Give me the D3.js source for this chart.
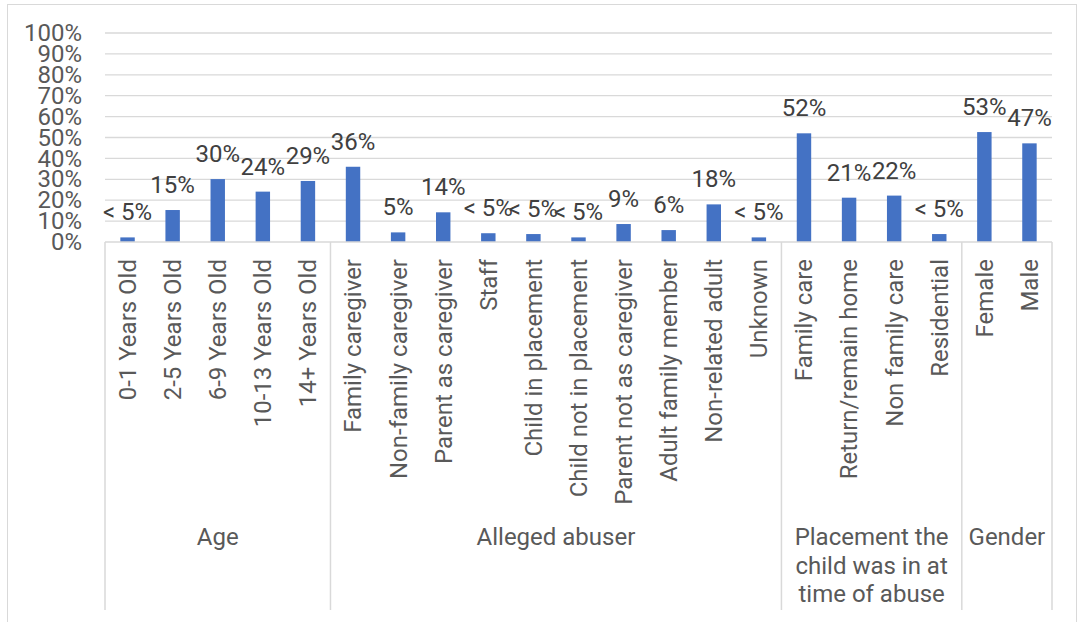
<!DOCTYPE html>
<html>
<head>
<meta charset="utf-8">
<script src="https://cdn.jsdelivr.net/npm/d3@7"></script>
<style>
  html, body { margin: 0; padding: 0; background: #fff; }
  svg { display: block; }
  text { font-family: Roboto, "Noto Sans", sans-serif; }
</style>
</head>
<body>
<svg id="chart" width="1082" height="622"></svg>
<script>
const categories = [
  "0-1 Years Old", "2-5 Years Old", "6-9 Years Old", "10-13 Years Old", "14+ Years Old",
  "Family caregiver", "Non-family caregiver", "Parent as caregiver", "Staff", "Child in placement",
  "Child not in placement", "Parent not as caregiver", "Adult family member", "Non-related adult", "Unknown",
  "Family care", "Return/remain home", "Non family care", "Residential",
  "Female", "Male"
];
const values = [
  0.022, 0.153, 0.301, 0.241, 0.292,
  0.36, 0.046, 0.142, 0.042, 0.038,
  0.022, 0.086, 0.057, 0.18, 0.022,
  0.52, 0.212, 0.222, 0.038,
  0.526, 0.472
];
const valueLabels = [
  "< 5%", "15%", "30%", "24%", "29%",
  "36%", "5%", "14%", "< 5%", "< 5%",
  "< 5%", "9%", "6%", "18%", "< 5%",
  "52%", "21%", "22%", "< 5%",
  "53%", "47%"
];
const groupNames = [["Age"], ["Alleged abuser"], ["Placement the", "child was in at", "time of abuse"], ["Gender"]];
const groupSizes = [5, 10, 4, 2];
const yTicks = [0, 0.1, 0.2, 0.3, 0.4, 0.5, 0.6, 0.7, 0.8, 0.9, 1.0];

(function () {
const svg = d3.select("#chart");
const pLeft = 105, pRight = 1052, pTop = 33, pBottom = 242;
const gridColor = "#d9d9d9";
const fs = 24;

// chart border
svg.append("rect").attr("x", 7.5).attr("y", 4.5).attr("width", 1069).attr("height", 640)
  .attr("fill", "none").attr("stroke", gridColor).attr("stroke-width", 1);

const x = d3.scaleBand().domain(d3.range(categories.length)).range([pLeft, pRight])
  .paddingInner(0.68).paddingOuter(0.34);
const y = d3.scaleLinear().domain([0, 1]).range([pBottom, pTop]);

// gridlines
svg.append("g").selectAll("line").data(yTicks.filter(d => d > 0)).join("line")
  .attr("x1", pLeft).attr("x2", pRight)
  .attr("y1", d => y(d)).attr("y2", d => y(d))
  .attr("stroke", gridColor).attr("stroke-width", 1.3);

// y axis labels
const yAxis = d3.axisLeft(y).tickValues(yTicks).tickFormat(d3.format(".0%")).tickSize(0).tickPadding(0);
const yg = svg.append("g").attr("transform", `translate(82,0)`).call(yAxis);
yg.select(".domain").remove();
yg.selectAll("text").attr("font-size", fs).attr("fill", "#595959")
  .attr("font-family", "Roboto, 'Noto Sans', sans-serif");

// bars
svg.append("g").selectAll("rect").data(values).join("rect")
  .attr("x", (d, i) => x(i)).attr("width", x.bandwidth())
  .attr("y", d => y(d)).attr("height", d => y(0) - y(d))
  .attr("fill", "#4472c4");

// data labels
svg.append("g").selectAll("text").data(values).join("text")
  .attr("x", (d, i) => x(i) + x.bandwidth() / 2)
  .attr("y", d => y(d) - 17)
  .attr("text-anchor", "middle").attr("font-size", fs).attr("fill", "#404040")
  .text((d, i) => valueLabels[i]);

// x axis line
svg.append("line").attr("x1", pLeft).attr("x2", pRight).attr("y1", pBottom).attr("y2", pBottom)
  .attr("stroke", gridColor).attr("stroke-width", 1.5);

// category labels
svg.append("g").selectAll("text").data(categories).join("text")
  .attr("transform", (d, i) => `translate(${x(i) + x.bandwidth() / 2},259) rotate(-90)`)
  .attr("dy", "0.35em").attr("text-anchor", "end")
  .attr("font-size", fs).attr("fill", "#595959")
  .text(d => d);

// group separators and labels
const step = x.step();
let acc = 0;
const bounds = [0];
groupSizes.forEach(s => { acc += s; bounds.push(acc); });
svg.append("g").selectAll("line").data(bounds).join("line")
  .attr("x1", d => pLeft + d * step).attr("x2", d => pLeft + d * step)
  .attr("y1", pBottom).attr("y2", 610)
  .attr("stroke", gridColor).attr("stroke-width", 1.5);

const gl = svg.append("g").selectAll("text").data(groupNames).join("text")
  .attr("x", (d, i) => pLeft + (bounds[i] + bounds[i + 1]) / 2 * step)
  .attr("y", 545)
  .attr("text-anchor", "middle").attr("font-size", fs).attr("fill", "#595959");
gl.each(function(lines) {
  const t = d3.select(this);
  const cx = t.attr("x");
  lines.forEach((ln, k) => {
    t.append("tspan").attr("x", cx).attr("dy", k === 0 ? 0 : 28.5).text(ln);
  });
});
})();
</script>
</body>
</html>
